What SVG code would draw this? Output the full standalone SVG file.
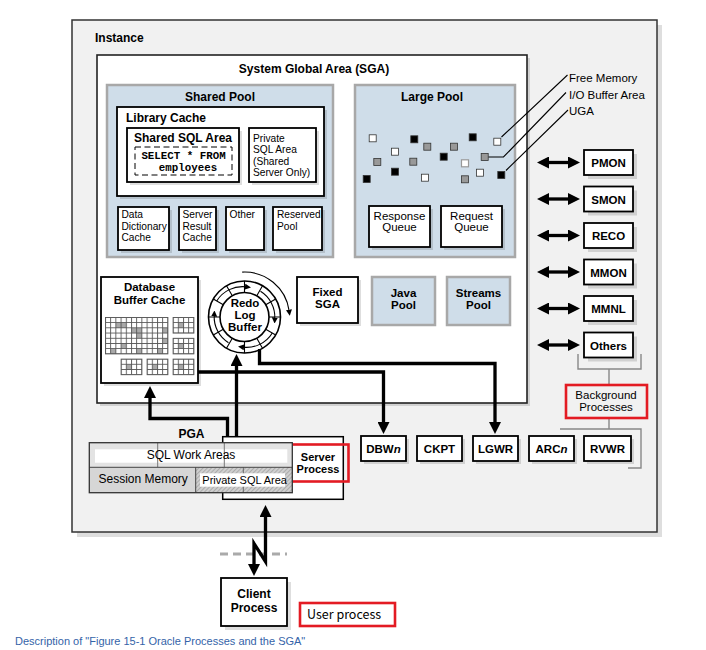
<svg xmlns="http://www.w3.org/2000/svg" width="706" height="650" viewBox="0 0 706 650">
<style>
text{font-family:"Liberation Sans",Arial,sans-serif;fill:#000}
.b{font-weight:bold;font-size:12px}
.bp{font-weight:bold;font-size:11.5px;text-anchor:middle}
.r{font-size:11.5px}
.s{font-size:10.2px}
.m{text-anchor:middle}
.box{fill:#fff;stroke:#000;stroke-width:1.8}
.sh{fill:#000;fill-opacity:0.13}
.pool{fill:#cfdde9;stroke:#a8a8a8;stroke-width:2.5}
.conn{fill:none;stroke:#000;stroke-width:3.3}
.thin{fill:none;stroke:#000;stroke-width:1.1}
.gl{fill:none;stroke:#888;stroke-width:1.4}
.red{fill:none;stroke:#e31b23;stroke-width:2.6}
.sq{stroke:#333;stroke-width:0.8}
</style>
<defs>
<marker id="ah" viewBox="0 0 12 12" markerUnits="userSpaceOnUse" markerWidth="12" markerHeight="12" refX="2" refY="6" orient="auto-start-reverse"><path d="M0,0 L12,6 L0,12 Z" fill="#000"/></marker>
<marker id="sa" viewBox="0 0 6 6" markerUnits="userSpaceOnUse" markerWidth="6" markerHeight="6" refX="1" refY="3" orient="auto"><path d="M0,0 L6,3 L0,6 Z" fill="#000"/></marker>
<pattern id="grid" patternUnits="userSpaceOnUse" x="105" y="317" width="5.2" height="5.2"><path d="M0.5,0 V5.2 M0,0.5 H5.2" stroke="#555" stroke-width="0.9" fill="none"/></pattern>
<pattern id="hatch" patternUnits="userSpaceOnUse" width="3" height="3" patternTransform="rotate(45)"><rect width="3" height="3" fill="#cfcfcf"/><path d="M0,0 V3" stroke="#8a8a8a" stroke-width="1"/></pattern>
</defs>
<rect width="706" height="650" fill="#fff"/>

<g id="instance">
<rect class="sh" x="77" y="25" width="585" height="512" fill-opacity="0.14"/>
<rect x="72" y="20" width="585" height="512" fill="#f1f1f1" stroke="#333" stroke-width="1.5"/>
<text class="b" x="95" y="42">Instance</text>
</g>

<g id="sga">
<rect class="sh" x="100" y="58" width="430" height="348"/>
<rect x="97" y="55" width="430" height="348" fill="#fff" stroke="#222" stroke-width="1.6"/>
<text class="b m" x="314" y="73">System Global Area (SGA)</text>
</g>

<g id="shared-pool">
<rect class="pool" x="107" y="85" width="226" height="172"/>
<text class="b m" x="220" y="101">Shared Pool</text>
</g>
<g id="library-cache">
<rect class="sh" x="120" y="110" width="207" height="89"/>
<rect class="box" x="117" y="107" width="207" height="89"/>
<text class="b" x="126" y="122">Library Cache</text>
</g>
<g id="shared-sql-area">
<rect class="sh" x="130" y="131" width="112" height="54"/>
<rect class="box" x="127" y="128" width="112" height="54"/>
<text class="b m" x="183" y="142">Shared SQL Area</text>
<rect x="135" y="147" width="97" height="28" fill="none" stroke="#000" stroke-width="1" stroke-dasharray="6,3.5"/>
<text x="183.5" y="159" font-size="10.8" font-weight="bold" text-anchor="middle" style="font-family:'Liberation Mono',monospace">SELECT * FROM</text>
<text x="188" y="171" font-size="10.8" font-weight="bold" text-anchor="middle" style="font-family:'Liberation Mono',monospace">employees</text>
</g>
<g id="private-sql-shared">
<rect class="sh" x="252" y="131" width="67" height="54"/>
<rect class="box" x="249" y="128" width="67" height="54" stroke-width="1.5"/>
<text class="s" x="253" y="141.5" font-size="10.8">Private</text>
<text class="s" x="253" y="153" font-size="10.8">SQL Area</text>
<text class="s" x="253" y="164.5" font-size="10.8">(Shared</text>
<text class="s" x="253" y="176" font-size="10.8">Server Only)</text>
</g>
<g id="data-dictionary-cache">
<rect class="sh" x="121" y="210" width="51" height="43"/>
<rect class="box" x="118" y="207" width="51" height="43" stroke-width="1.5"/>
<text class="s" x="121.5" y="218">Data</text>
<text class="s" x="121.5" y="229.5">Dictionary</text>
<text class="s" x="121.5" y="241">Cache</text>
</g>
<g id="server-result-cache">
<rect class="sh" x="182" y="210" width="37" height="43"/>
<rect class="box" x="179" y="207" width="37" height="43" stroke-width="1.5"/>
<text class="s" x="182.5" y="218">Server</text>
<text class="s" x="182.5" y="229.5">Result</text>
<text class="s" x="182.5" y="241">Cache</text>
</g>
<g id="other">
<rect class="sh" x="229" y="210" width="38" height="43"/>
<rect class="box" x="226" y="207" width="38" height="43" stroke-width="1.5"/>
<text class="s" x="229.5" y="218">Other</text>
</g>
<g id="reserved-pool">
<rect class="sh" x="276" y="210" width="49" height="43"/>
<rect class="box" x="273" y="207" width="49" height="43" stroke-width="1.5"/>
<text class="s" x="277" y="218">Reserved</text>
<text class="s" x="277" y="229.5">Pool</text>
</g>

<g id="large-pool">
<rect class="pool" x="355" y="85" width="160" height="172"/>
<text class="b m" x="432" y="101">Large Pool</text>
<g class="sq">
<rect x="369.2" y="134.8" width="7" height="7" fill="#fff"/>
<rect x="410.8" y="135.8" width="7" height="7" fill="#000"/>
<rect x="423.8" y="143.2" width="7" height="7" fill="#999"/>
<rect x="391.5" y="148.2" width="7" height="7" fill="#fff"/>
<rect x="373.8" y="158.5" width="7" height="7" fill="#999"/>
<rect x="409.8" y="158.2" width="7" height="7" fill="#999"/>
<rect x="440.2" y="153.2" width="7" height="7" fill="#000"/>
<rect x="450.5" y="143.2" width="7" height="7" fill="#999"/>
<rect x="469.2" y="133.8" width="7" height="7" fill="#000"/>
<rect x="493.8" y="138.2" width="7" height="7" fill="#fff"/>
<rect x="461.5" y="159.8" width="7" height="7" fill="#fff" stroke="#999" stroke-width="1.2"/>
<rect x="481.2" y="153.5" width="7" height="7" fill="#999"/>
<rect x="476.5" y="169.2" width="7" height="7" fill="#fff"/>
<rect x="497.8" y="171.5" width="7" height="7" fill="#000"/>
<rect x="363.2" y="175.5" width="7" height="7" fill="#000"/>
<rect x="391.5" y="168.2" width="7" height="7" fill="#000"/>
<rect x="421.5" y="174.2" width="7" height="7" fill="#fff"/>
<rect x="461.5" y="175.8" width="7" height="7" fill="#999"/>
</g>
</g>
<g id="response-queue">
<rect class="sh" x="372" y="209" width="61" height="41"/>
<rect class="box" x="369" y="206" width="61" height="41" stroke-width="1.5"/>
<text class="r m" x="399.5" y="219.5">Response</text>
<text class="r m" x="399.5" y="231">Queue</text>
</g>
<g id="request-queue">
<rect class="sh" x="444" y="209" width="61" height="41"/>
<rect class="box" x="441" y="206" width="61" height="41" stroke-width="1.5"/>
<text class="r m" x="471.5" y="219.5">Request</text>
<text class="r m" x="471.5" y="231">Queue</text>
</g>

<g id="legend">
<path class="thin" d="M501.5,137 L567.5,75 M488.5,157 H503.5 L566,92.5 M506,170.5 L568,110" stroke-width="1"/>
<text class="r" x="569" y="82">Free Memory</text>
<text class="r" x="569" y="98.5">I/O Buffer Area</text>
<text class="r" x="569" y="115">UGA</text>
</g>

<g id="database-buffer-cache">
<rect class="sh" x="104" y="280" width="97" height="106"/>
<rect class="box" x="101" y="277" width="97" height="106"/>
<text class="bp" x="149.5" y="291">Database</text>
<text class="bp" x="149.5" y="303.5">Buffer Cache</text>
<g fill="#a9a9a9">
<rect x="115.9" y="322.7" width="10.4" height="5.2"/>
<rect x="131.5" y="327.9" width="5.2" height="5.2"/>
<rect x="136.7" y="327.9" width="5.2" height="10.4"/>
<rect x="162.7" y="327.9" width="5.2" height="5.2"/>
<rect x="162.7" y="338.3" width="5.2" height="5.2"/>
<rect x="121.1" y="343.5" width="5.2" height="5.2"/>
<rect x="110.7" y="348.7" width="5.2" height="5.2"/>
<rect x="136.7" y="348.7" width="5.2" height="5.2"/>
<rect x="157.5" y="348.7" width="5.2" height="5.2"/>
<rect x="178.3" y="322.7" width="5.2" height="5.2"/>
<rect x="178.3" y="343.5" width="5.2" height="5.2"/>
<rect x="126.3" y="364.3" width="5.2" height="5.2"/>
<rect x="152.3" y="364.3" width="5.2" height="5.2"/>
<rect x="178.3" y="364.3" width="5.2" height="5.2"/>
</g>
<g fill="url(#grid)" stroke="#555" stroke-width="0.9">
<rect x="105.5" y="317.5" width="62.4" height="36.4"/>
<rect x="173.1" y="317.5" width="20.8" height="15.6"/>
<rect x="173.1" y="338.3" width="20.8" height="15.6"/>
<rect x="121.1" y="359.1" width="20.8" height="15.6"/>
<rect x="147.1" y="359.1" width="20.8" height="15.6"/>
<rect x="173.1" y="359.1" width="20.8" height="15.6"/>
</g>
</g>

<g id="redo-log-buffer">
<circle cx="244.5" cy="317" r="36" fill="#fff" stroke="#000" stroke-width="1.6"/>
<circle cx="244.5" cy="317" r="24.5" fill="#fff" stroke="#000" stroke-width="1.6"/>
<path class="thin" stroke-width="1" d="M269,317 H280.5 M265.7,329.3 L275.7,335 M256.8,338.2 L262.5,348.2 M244.5,341.5 V353 M232.3,338.2 L226.5,348.2 M223.3,329.3 L213.3,335 M220,317 H208.5 M223.3,304.8 L213.3,299 M232.3,295.8 L226.5,285.8 M244.5,292.5 V281 M256.8,295.8 L262.5,285.8 M265.7,304.8 L275.7,299"/>
<g class="thin" stroke-width="1" marker-end="url(#sa)">
<path d="M216.7,301 A30.3,30.3 0 0 1 246,286.8"/>
<path d="M260.5,291.3 A30.3,30.3 0 0 1 274.8,318.5"/>
<path d="M272.3,333 A30.3,30.3 0 0 1 243,347.2"/>
<path d="M228.5,342.7 A30.3,30.3 0 0 1 214.2,315.5"/>
</g>
<path class="thin" stroke-width="1.2" marker-end="url(#sa)" d="M242.2,272.1 A45,45 0 0 1 289.1,310.7"/>
<text class="bp" x="245" y="307">Redo</text>
<text class="bp" x="245" y="319">Log</text>
<text class="bp" x="245" y="331">Buffer</text>
</g>

<g id="fixed-sga">
<rect class="sh" x="300" y="280" width="61" height="46"/>
<rect class="box" x="297" y="277" width="61" height="46"/>
<text class="bp" x="327.5" y="296">Fixed</text>
<text class="bp" x="327.5" y="307.5">SGA</text>
</g>
<g id="java-pool">
<rect class="pool" x="372" y="277" width="63" height="48"/>
<text class="bp" x="403.5" y="297">Java</text>
<text class="bp" x="403.5" y="308.5">Pool</text>
</g>
<g id="streams-pool">
<rect class="pool" x="447" y="277" width="63" height="48"/>
<text class="bp" x="478.5" y="297">Streams</text>
<text class="bp" x="478.5" y="308.5">Pool</text>
</g>

<g id="pmon"><rect class="sh" x="588" y="154" width="49" height="25"/><rect class="box" x="584" y="150" width="49" height="25"/><text class="bp" x="608.5" y="167">PMON</text></g>
<g id="smon"><rect class="sh" x="588" y="190.5" width="49" height="25"/><rect class="box" x="584" y="186.5" width="49" height="25"/><text class="bp" x="608.5" y="203.5">SMON</text></g>
<g id="reco"><rect class="sh" x="588" y="227" width="49" height="25"/><rect class="box" x="584" y="223" width="49" height="25"/><text class="bp" x="608.5" y="240">RECO</text></g>
<g id="mmon"><rect class="sh" x="588" y="263.5" width="49" height="25"/><rect class="box" x="584" y="259.5" width="49" height="25"/><text class="bp" x="608.5" y="276.5">MMON</text></g>
<g id="mmnl"><rect class="sh" x="588" y="300" width="49" height="25"/><rect class="box" x="584" y="296" width="49" height="25"/><text class="bp" x="608.5" y="313">MMNL</text></g>
<g id="others"><rect class="sh" x="588" y="336.5" width="49" height="25"/><rect class="box" x="584" y="332.5" width="49" height="25"/><text class="bp" x="608.5" y="349.5">Others</text></g>

<g id="background-processes">
<path class="gl" d="M578,354 V369 H641 V354 M609,369 V385 M609,418 V429 M560,429 H641 V468 H628"/>
<rect class="red" x="566" y="385" width="81" height="33"/>
<text class="r m" x="606" y="399" font-size="12">Background</text>
<text class="r m" x="606" y="411" font-size="12">Processes</text>
</g>

<g id="dbwn"><rect class="sh" x="364" y="439" width="45" height="25"/><rect class="box" x="361" y="436" width="45" height="25"/><text class="bp" x="383.5" y="453">DBW<tspan font-style="italic">n</tspan></text></g>
<g id="ckpt"><rect class="sh" x="420" y="439" width="45" height="25"/><rect class="box" x="417" y="436" width="45" height="25"/><text class="bp" x="439.5" y="453">CKPT</text></g>
<g id="lgwr"><rect class="sh" x="476" y="439" width="45" height="25"/><rect class="box" x="473" y="436" width="45" height="25"/><text class="bp" x="495.5" y="453">LGWR</text></g>
<g id="arcn"><rect class="sh" x="532" y="439" width="45" height="25"/><rect class="box" x="529" y="436" width="45" height="25"/><text class="bp" x="551.5" y="453">ARC<tspan font-style="italic">n</tspan></text></g>
<g id="rvwr"><rect class="sh" x="587" y="439" width="47" height="25"/><rect class="box" x="584" y="436" width="47" height="25"/><text class="bp" x="607.5" y="453">RVWR</text></g>

<g id="server-process">
<rect x="222.7" y="436.7" width="120.6" height="62.6" fill="#fff" stroke="#000" stroke-width="1.5"/>
<text class="m" x="318" y="460.5" font-size="11" font-weight="bold">Server</text>
<text class="m" x="318" y="473" font-size="11" font-weight="bold">Process</text>
<rect class="red" x="288.5" y="444.5" width="60" height="37"/>
</g>

<g id="pga">
<text class="b m" x="191.5" y="438">PGA</text>
<rect x="89.3" y="442.7" width="203" height="24.6" fill="#e3e3e3"/>
<rect x="95" y="449.3" width="192.3" height="13.4" fill="#fff"/>
<path d="M157.7,442.7 V467.3 M224.3,442.7 V467.3" stroke="#777" stroke-width="1"/>
<text class="m" x="191" y="458.5" font-size="12">SQL Work Areas</text>
<rect x="89.3" y="467.3" width="106.4" height="25.4" fill="#d6d6d6"/>
<text x="98.5" y="483" font-size="12">Session Memory</text>
<rect x="195.7" y="467.3" width="96.6" height="25.4" fill="url(#hatch)"/>
<path d="M243.3,467.3 V492.7" stroke="#666" stroke-width="1"/>
<rect x="200" y="473.3" width="85" height="13.4" fill="#fff"/>
<text x="202.3" y="483.5" font-size="11">Private SQL Area</text>
<path d="M89.3,467.3 H292.3 M195.7,467.3 V492.7" stroke="#444" stroke-width="1"/>
<rect x="89.3" y="442.7" width="203" height="50" fill="none" stroke="#333" stroke-width="1.3"/>
</g>

<g id="connectors">
<path class="conn" d="M198,372 H383.5 V424" marker-end="url(#ah)"/>
<path class="conn" d="M259.5,349 V363.5 H495 V424" marker-end="url(#ah)"/>
<path class="conn" d="M236.5,436.7 V364" marker-end="url(#ah)"/>
<path class="conn" d="M227.5,436.7 V418.5 H150 V396" marker-end="url(#ah)"/>
<path class="conn" d="M547,162.5 H570" marker-start="url(#ah)" marker-end="url(#ah)"/>
<path class="conn" d="M547,199 H570" marker-start="url(#ah)" marker-end="url(#ah)"/>
<path class="conn" d="M547,235.5 H570" marker-start="url(#ah)" marker-end="url(#ah)"/>
<path class="conn" d="M547,272 H570" marker-start="url(#ah)" marker-end="url(#ah)"/>
<path class="conn" d="M547,308.5 H570" marker-start="url(#ah)" marker-end="url(#ah)"/>
<path class="conn" d="M547,345 H570" marker-start="url(#ah)" marker-end="url(#ah)"/>
<path d="M220,554 H287" stroke="#aaa" stroke-width="3" stroke-dasharray="8,5" fill="none"/>
<path class="conn" d="M265.5,515 V561.5 L254,543.5 V566" stroke-linejoin="miter" marker-start="url(#ah)" marker-end="url(#ah)"/>
</g>

<g id="client-process">
<rect class="sh" x="225" y="582" width="66" height="48"/>
<rect class="box" x="221" y="578" width="66" height="48" stroke-width="1.6"/>
<text class="b m" x="254" y="598">Client</text>
<text class="b m" x="254" y="611.5">Process</text>
</g>
<g id="user-process">
<rect class="red" x="300" y="603" width="95" height="23"/>
<text x="307" y="618.5" font-size="12.5" style="font-family:'Noto Sans CJK KR','Liberation Sans',sans-serif">User process</text>
</g>
<text x="15" y="645" font-size="11" style="fill:#3463a8">Description of "Figure 15-1 Oracle Processes and the SGA"</text>
</svg>
